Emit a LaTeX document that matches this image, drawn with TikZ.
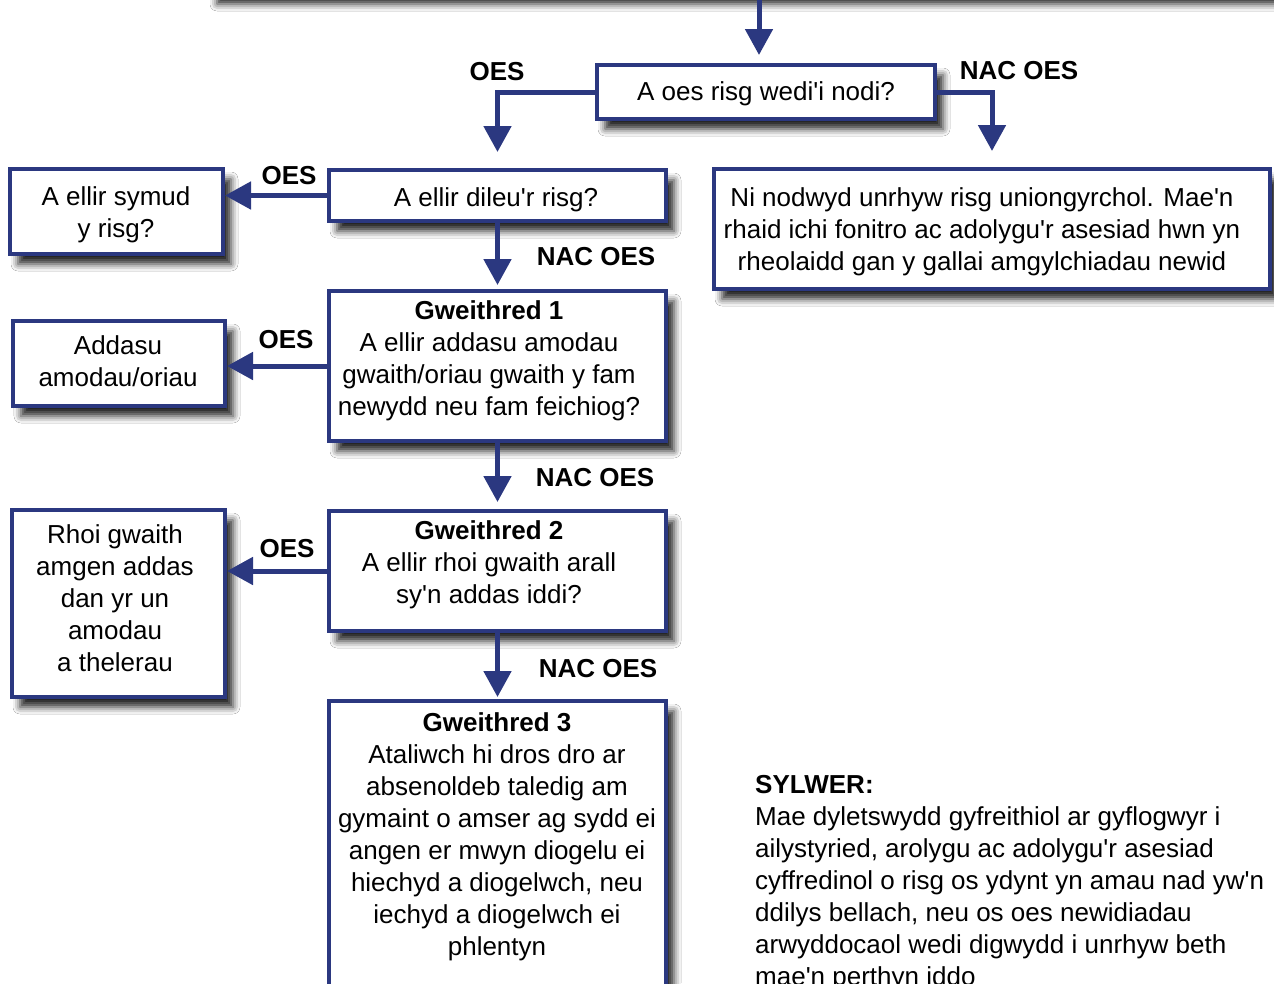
\documentclass[tikz,border=0pt]{standalone}
\usepackage{fontspec}
\setmainfont{Liberation Sans}[Ligatures=TeXOff]
\usetikzlibrary{arrows.meta,shadows.blur,calc}
\definecolor{navy}{RGB}{43,56,128}
\newcommand\mybox[5]{%
  \node[box, minimum width={(#4-#2-4)*1pt}, minimum height={(#5-#3-4)*1pt}] (#1) at ({(#2+#4)/2},{(#3+#5)/2}) {};}
\begin{document}
\begin{tikzpicture}[x=1pt,y=-1pt,
  box/.style={draw=navy, line width=4pt, fill=white, inner sep=0pt,
    blur shadow={shadow xshift=8pt, shadow yshift=-10pt, shadow blur radius=7pt, shadow opacity=85}},
  txt/.style={font=\fontsize{26}{32}\selectfont, align=center, inner sep=0pt},
  lab/.style={font=\fontsize{26}{30}\selectfont\bfseries, inner sep=0pt},
  arr/.style={draw=navy, line width=5pt, -{Triangle[width=27pt,length=26pt]}}]
\useasboundingbox (0,0) rectangle (1274,983);
\clip (0,0) rectangle (1274,983);
\fill[white] (0,0) rectangle (1274,983);
% boxes
\mybox{b0}{207}{-100}{1311}{-4}
\mybox{b1}{595}{63}{937}{121}
\mybox{b2}{327}{168}{668}{223}
\mybox{bL1}{8}{167}{225}{256}
\mybox{bR}{712}{167}{1272}{291}
\mybox{g1}{327}{289}{668}{443}
\mybox{bL2}{11}{319}{227}{408}
\mybox{g2}{327}{509}{668}{633}
\mybox{bL3}{10}{508}{227}{699}
\mybox{g3}{327}{699}{668}{1100}
% texts
\node[txt] (t1) at (766,94) {A oes risg wedi'i nodi?};
\node[txt] (t2) at (496,200) {A ellir dileu'r risg?};
\node[txt] (tL1) at (116,215) {A ellir symud\\y risg?};
\node[txt] (tR) at (982,232) {Ni nodwyd unrhyw risg uniongyrchol. Mae'n\\rhaid ichi fonitro ac adolygu'r asesiad hwn yn\\rheolaidd gan y gallai amgylchiadau newid};
\node[txt] (tg1) at (489,361) {\textbf{Gweithred 1}\\A ellir addasu amodau\\gwaith/oriau gwaith y fam\\newydd neu fam feichiog?};
\node[txt] (tL2) at (118,361) {Addasu\\amodau/oriau};
\node[txt] (tg2) at (489,565) {\textbf{Gweithred 2}\\A ellir rhoi gwaith arall\\sy'n addas iddi?};
\node[txt] (tL3) at (115,598) {Rhoi gwaith\\amgen addas\\dan yr un\\amodau\\a thelerau};
\node[txt] (tg3) at (497,837) {\textbf{Gweithred 3}\\Ataliwch hi dros dro ar\\absenoldeb taledig am\\gymaint o amser ag sydd ei\\angen er mwyn diogelu ei\\hiechyd a diogelwch, neu\\iechyd a diogelwch ei\\phlentyn};
\node[txt, align=left, anchor=west] (note) at (755,883) {\textbf{SYLWER:}\\Mae dyletswydd gyfreithiol ar gyflogwyr i\\ailystyried, arolygu ac adolygu'r asesiad\\cyffredinol o risg os ydynt yn amau nad yw'n\\ddilys bellach, neu os oes newidiadau\\arwyddocaol wedi digwydd i unrhyw beth\\mae'n perthyn iddo};
% labels
\node[lab] (l1) at (497,72) {OES};
\node[lab] (l2) at (1019,71) {NAC OES};
\node[lab] (l3) at (289,176) {OES};
\node[lab] (l4) at (596,257) {NAC OES};
\node[lab] (l5) at (286,340) {OES};
\node[lab] (l6) at (595,478) {NAC OES};
\node[lab] (l7) at (287,549) {OES};
\node[lab] (l8) at (598,669) {NAC OES};
% connectors
\draw[arr, shorten >=8pt] (b0.south) -- (b0.south |- b1.north);
\draw[arr, shorten >=16pt] (b1.west) -| (b2.north);
\draw[arr, shorten >=16pt] (b1.east) -| (bR.north);
\draw[arr] (b2.west) -- (b2.west -| bL1.east);
\draw[arr, shorten >=4pt] (b2.south) -- (g1.north);
\draw[arr] (g1.west) -- (g1.west -| bL2.east);
\draw[arr, shorten >=7pt] (g1.south) -- (g2.north);
\draw[arr] (g2.west) -- (g2.west -| bL3.east);
\draw[arr, shorten >=2pt] (g2.south) -- (g3.north);
\end{tikzpicture}
\end{document}
